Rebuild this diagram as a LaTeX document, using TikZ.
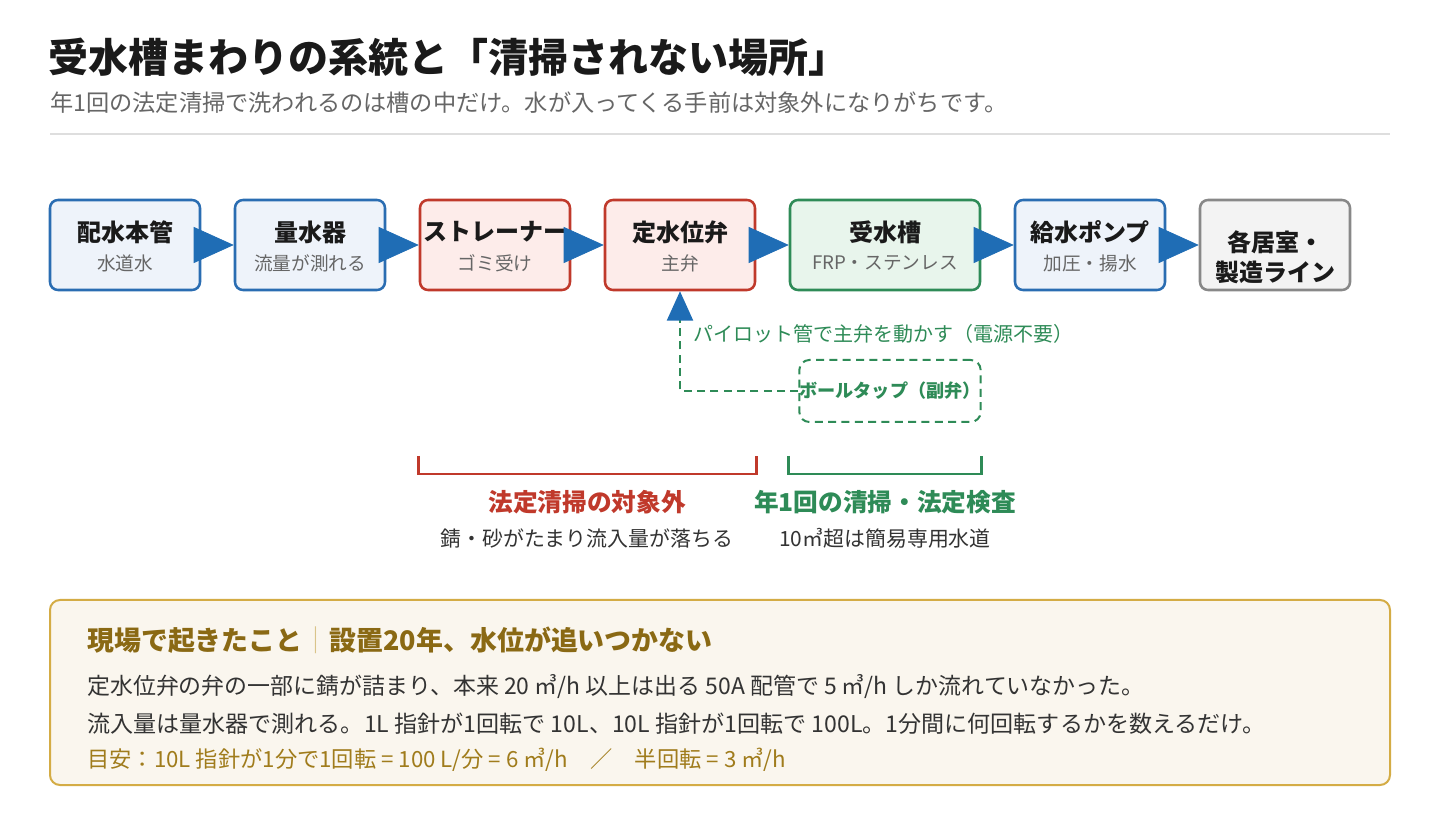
\documentclass[tikz,border=0pt]{standalone}
\usepackage{fontspec}
\setmainfont{Noto Sans CJK JP}
\usetikzlibrary{arrows.meta,calc}
\definecolor{blueB}{HTML}{2A6DB2}
\definecolor{blueF}{HTML}{EEF3FA}
\definecolor{blueA}{HTML}{1F6DB5}
\definecolor{redB}{HTML}{C0392B}
\definecolor{redF}{HTML}{FDECEA}
\definecolor{greenB}{HTML}{2E8B57}
\definecolor{greenF}{HTML}{E8F5EC}
\definecolor{grayB}{HTML}{888888}
\definecolor{grayF}{HTML}{F3F3F3}
\definecolor{ink}{HTML}{1A1A1A}
\definecolor{subg}{HTML}{666666}
\definecolor{body}{HTML}{333333}
\definecolor{goldB}{HTML}{D4AC45}
\definecolor{goldF}{HTML}{FAF6EE}
\definecolor{goldH}{HTML}{8A6914}
\definecolor{goldN}{HTML}{A07C1C}
\definecolor{goldL}{HTML}{D9C48A}
\tikzset{
  box/.style={rectangle, rounded corners=6pt, line width=1.9pt, minimum height=67.5pt, minimum width=112.5pt, inner sep=0pt},
  bluebox/.style={box, draw=blueB, fill=blueF},
  redbox/.style={box, draw=redB, fill=redF},
  greenbox/.style={box, draw=greenB, fill=greenF},
  graybox/.style={box, draw=grayB, fill=grayF},
  ttl/.style={text=ink, font=\fontsize{18pt}{22pt}\selectfont\bfseries, inner sep=0pt},
  sub/.style={text=subg, font=\fontsize{14pt}{16pt}\selectfont, inner sep=0pt},
  flow/.style={draw=blueA, line width=0.5pt, -{Triangle[length=30pt,width=27pt,color=blueA]}},
  pilot/.style={draw=greenB, line width=1.6pt, dash pattern=on 6pt off 4pt, -{Triangle[length=22pt,width=19.5pt,color=blueA]}},
  bracket/.style={line width=1.9pt},
}
\begin{document}
\begin{tikzpicture}[x=0.75pt,y=-0.75pt]
\useasboundingbox[fill=white] (0,0) rectangle (1440,830);
% header
\node[anchor=west, inner sep=0pt, text=ink, font=\fontsize{30pt}{36pt}\selectfont\bfseries] (title) at (48,57) {受水槽まわりの系統と「清掃されない場所」};
\node[anchor=west, inner sep=0pt, text=subg, font=\fontsize{17.4pt}{21pt}\selectfont] (subtitle) at (50,103) {年1回の法定清掃で洗われるのは槽の中だけ。水が入ってくる手前は対象外になりがちです。};
\draw[draw=black!13, line width=1.1pt] (50,134) -- (1390,134);
% boxes
\node[bluebox] (n1) at (125,245) {};
\node[bluebox] (n2) at (310,245) {};
\node[redbox] (n3) at (495,245) {};
\node[redbox] (n4) at (680,245) {};
\node[greenbox, minimum width=142.5pt] (n5) at (885,245) {};
\node[bluebox] (n6) at (1090,245) {};
\node[graybox] (n7) at (1275,245) {};
\node[ttl] (t1) at (125,232) {配水本管};
\node[sub] (s1) at (125,263) {水道水};
\node[ttl] (t2) at (310,232) {量水器};
\node[sub] (s2) at (310,263) {流量が測れる};
\node[ttl] (t3) at (495,232) {ストレーナー};
\node[sub] (s3) at (495,263) {ゴミ受け};
\node[ttl] (t4) at (680,232) {定水位弁};
\node[sub] (s4) at (680,263) {主弁};
\node[ttl] (t5) at (885,232) {受水槽};
\node[sub] (s5) at (885,263) {FRP・ステンレス};
\node[ttl] (t6) at (1090,232) {給水ポンプ};
\node[sub] (s6) at (1090,263) {加圧・揚水};
\node[ttl, align=center, font=\fontsize{18pt}{22.5pt}\selectfont\bfseries] (t7) at (1275,257) {各居室・\\製造ライン};
% flow arrows
\draw[flow] ($(n1.east)+(-6,0)$) -- (n2.west);
\draw[flow] ($(n2.east)+(-6,0)$) -- (n3.west);
\draw[flow] ($(n3.east)+(-6,0)$) -- (n4.west);
\draw[flow] ($(n4.east)+(-6,0)$) -- (n5.west);
\draw[flow] ($(n5.east)+(-6,0)$) -- (n6.west);
\draw[flow] ($(n6.east)+(-6,0)$) -- (n7.west);
% pilot
\node[rectangle, rounded corners=7.5pt, draw=greenB, line width=1.5pt, dash pattern=on 6pt off 4pt, minimum width=135pt, minimum height=46.5pt, inner sep=0pt, text=greenB, font=\fontsize{13.6pt}{16pt}\selectfont\bfseries] (bt) at (890,391) {ボールタップ（副弁）};
\draw[pilot] (bt.west) -| (n4.south);
\node[anchor=west, inner sep=0pt, text=greenB, font=\fontsize{15pt}{18pt}\selectfont] (pl) at (693,334) {パイロット管で主弁を動かす（電源不要）};
% brackets
\draw[bracket, draw=redB] (n3.west |- 0,456) -- (n3.west |- 0,474) -- (n4.east |- 0,474) -- (n4.east |- 0,456);
\draw[bracket, draw=greenB] (n5.west |- 0,456) -- (n5.west |- 0,474) -- (n5.east |- 0,474) -- (n5.east |- 0,456);
\node[inner sep=0pt, text=redB, font=\fontsize{18.5pt}{22pt}\selectfont\bfseries] (rl) at (587,502) {法定清掃の対象外};
\node[inner sep=0pt, text=body, font=\fontsize{15.7pt}{18pt}\selectfont] (rs) at (587,538) {錆・砂がたまり流入量が落ちる};
\node[inner sep=0pt, text=greenB, font=\fontsize{18.5pt}{22pt}\selectfont\bfseries] (gl) at (885,502) {年1回の清掃・法定検査};
\node[inner sep=0pt, text=body, font=\fontsize{15.7pt}{18pt}\selectfont] (gs) at (885,538) {10㎥超は簡易専用水道};
% case box
\draw[draw=goldB, fill=goldF, line width=1.5pt, rounded corners=7.5pt] (50,600) rectangle (1390,785);
\node[anchor=west, inner sep=0pt, text=goldH, font=\fontsize{20.2pt}{24pt}\selectfont\bfseries] (h) at (87,640) {現場で起きたこと{\color{goldL}\mdseries｜}設置20年、水位が追いつかない};
\node[anchor=west, inner sep=0pt, text=body, font=\fontsize{17.2pt}{21pt}\selectfont] (l1) at (87,687) {定水位弁の弁の一部に錆が詰まり、本来 20 ㎥/h 以上は出る 50A 配管で 5 ㎥/h しか流れていなかった。};
\node[anchor=west, inner sep=0pt, text=body, font=\fontsize{17.3pt}{21pt}\selectfont] (l2) at (87,724) {流入量は量水器で測れる。1L 指針が1回転で 10L、10L 指針が1回転で 100L。1分間に何回転するかを数えるだけ。};
\node[anchor=west, inner sep=0pt, text=goldN, font=\fontsize{16.7pt}{20pt}\selectfont] (l3) at (87,760) {目安：10L 指針が1分で1回転 = 100 L/分 = 6 ㎥/h　／　半回転 = 3 ㎥/h};
\end{tikzpicture}
\end{document}
